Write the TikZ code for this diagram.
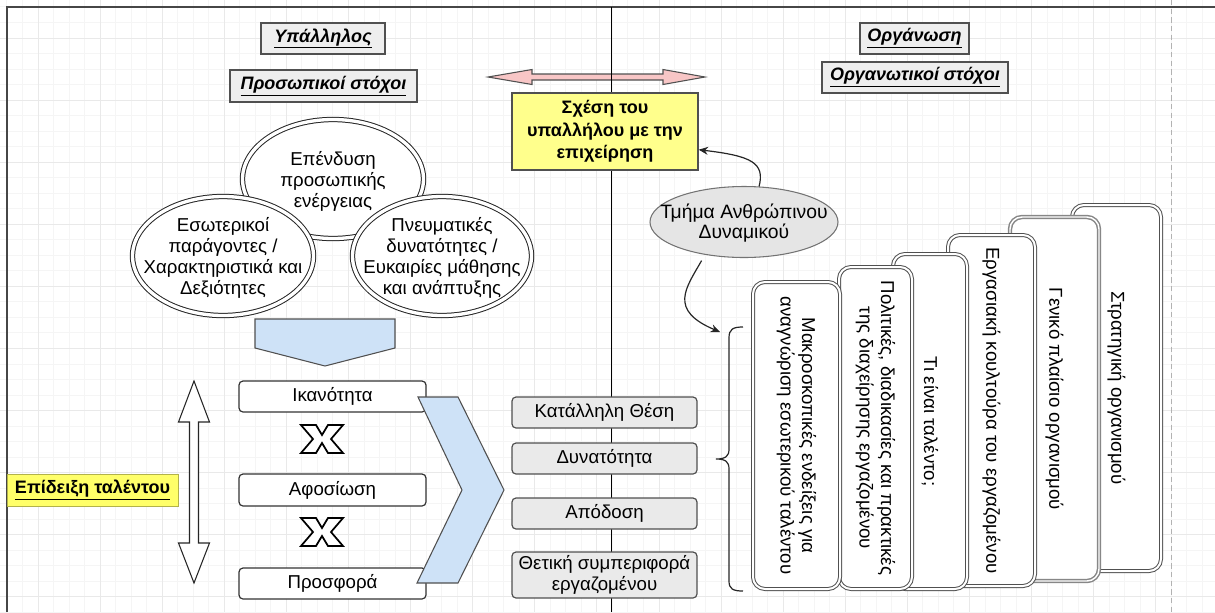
\documentclass[tikz,border=0pt]{standalone}
\usepackage{fontspec}
\setmainfont{Liberation Sans}
\usetikzlibrary{shapes.geometric,arrows.meta}

\definecolor{gridminor}{RGB}{245,245,245}
\definecolor{gridmajor}{RGB}{233,233,233}
\definecolor{framegray}{RGB}{70,70,70}
\definecolor{edge}{RGB}{80,80,80}
\definecolor{titlefill}{RGB}{238,238,238}
\definecolor{noteyellow}{RGB}{255,255,140}
\definecolor{labelyellow}{RGB}{255,255,105}
\definecolor{pinkfill}{RGB}{248,198,198}
\definecolor{bluefill}{RGB}{206,226,247}
\definecolor{boxgray}{RGB}{234,234,234}
\definecolor{hrgray}{RGB}{229,229,229}
\definecolor{thickgray}{RGB}{135,135,135}

\newcommand{\bodyfont}{\fontsize{14}{16}\selectfont}

\tikzset{
  titlebox/.style={draw=edge, fill=titlefill, line width=1pt, inner sep=0pt,
    font=\fontsize{13.5}{16}\selectfont\bfseries\itshape},
  notebox/.style={draw=edge, fill=noteyellow, line width=1pt, inner sep=0pt,
    align=center, font=\fontsize{13.5}{17}\selectfont\bfseries},
  ringellipse/.style={ellipse, draw=black!85, fill=white, line width=0.75pt,
    double=white, double distance=2.5pt, inner sep=0pt},
  ringtext/.style={align=center, font=\fontsize{14}{15.8}\selectfont},
  whitebox/.style={draw=black!80, fill=white, rounded corners=3pt, line width=0.9pt,
    inner sep=0pt, minimum width=140.25pt, font=\bodyfont},
  graybox/.style={draw=edge, fill=boxgray, rounded corners=3pt, line width=0.9pt,
    inner sep=0pt, minimum width=138.75pt, align=center, font=\bodyfont},
  stackbox/.style={draw=edge, fill=white, rounded corners=9pt, line width=0.75pt,
    double=white, double distance=1.5pt, inner sep=0pt, rotate=-90,
    align=center, font=\fontsize{14}{16.2}\selectfont},
  shapeedge/.style={draw=edge, line width=0.8pt, line join=miter},
  conn/.style={draw=black!85, line width=0.9pt, -{Stealth[length=7pt,width=6pt]}},
  crossmark/.pic={
    \draw[fill=white, line width=1.3pt, line join=miter]
      (-21,-14) -- (-6,-14) -- (0,-4) -- (6,-14) -- (21,-14) -- (9,0)
      -- (21,14) -- (6,14) -- (0,4) -- (-6,14) -- (-21,14) -- (-9,0) -- cycle;
  }
}

\begin{document}
\begin{tikzpicture}[x=0.75pt, y=-0.75pt]
\useasboundingbox (0,0) rectangle (1215,612);

% background grid
\foreach \k [evaluate=\k as \g using 38+15.525*\k] in {-2,...,75}
  \draw[gridminor, line width=0.75pt] (\g,0) -- (\g,612);
\foreach \k [evaluate=\k as \g using 38+15.525*\k] in {-2,...,37}
  \draw[gridminor, line width=0.75pt] (0,\g) -- (1215,\g);
\foreach \k [evaluate=\k as \g using 38+62.1*\k] in {0,...,18}
  \draw[gridmajor, line width=0.75pt] (\g,0) -- (\g,612);
\foreach \k [evaluate=\k as \g using 38+62.1*\k] in {0,...,9}
  \draw[gridmajor, line width=0.75pt] (0,\g) -- (1215,\g);

% page edge and frame
\draw[black!30, line width=0.75pt, dash pattern=on 4pt off 2.5pt] (1171,0) -- (1171,612);
\draw[framegray, line width=1.6pt] (7,612) -- (7,7) -- (1215,7);

% two-way relation arrow and the dividing line
\draw[shapeedge, fill=pinkfill]
  (488,77) -- (532,69.5) -- (532,74) -- (663,74) -- (663,69.5) -- (705,77)
  -- (663,84.5) -- (663,80) -- (532,80) -- (532,84.5) -- cycle;
\draw[black, line width=0.8pt] (611.5,7) -- (611.5,612);

% headings
\node[titlebox, minimum width=93pt, minimum height=23.25pt] (emp) at (323,38.5) {\underline{Υπάλληλος}};
\node[titlebox, minimum width=140.25pt, minimum height=24pt] (pgoals) at (323.5,86) {\underline{Προσωπικοί στόχοι}};
\node[titlebox, minimum width=81.75pt, minimum height=23.25pt] (org) at (914.5,38.5) {\underline{Οργάνωση}};
\node[titlebox, minimum width=139.5pt, minimum height=23.25pt] (ogoals) at (915,77.5) {\underline{Οργανωτικοί στόχοι}};

\node[notebox, minimum width=139.5pt, minimum height=57.75pt] (rel) at (605,131.5)
  {Σχέση του\\υπαλλήλου με την\\επιχείρηση};

% personal factors
\node[ringellipse, minimum width=135.75pt, minimum height=89.25pt] (invest) at (333,179) {};
\node[ringtext] (investT) at (333,181) {Επένδυση\\προσωπικής\\ενέργειας};
\node[ringellipse, minimum width=135.75pt, minimum height=89.25pt] (inner) at (223,256) {};
\node[ringtext] (innerT) at (223,258) {Εσωτερικοί\\παράγοντες /\\Χαρακτηριστικά και\\Δεξιότητες};
\node[ringellipse, minimum width=134.25pt, minimum height=89.25pt] (mental) at (442,256) {};
\node[ringtext] (mentalT) at (442,258) {Πνευματικές\\δυνατότητες /\\Ευκαιρίες μάθησης\\και ανάπτυξης};

% downward block arrow
\draw[shapeedge, fill=bluefill] (255,319) -- (395,319) -- (395,348) -- (325,366) -- (255,348) -- cycle;

% vertical two-way arrow
\draw[black!85, line width=0.8pt, fill=white, line join=miter]
  (194,381) -- (209.5,422) -- (198.5,422) -- (198.5,543) -- (209.5,543) -- (194,583)
  -- (178.5,543) -- (189.5,543) -- (189.5,422) -- (178.5,422) -- cycle;

% talent components
\node[whitebox, minimum height=23.25pt] (abil) at (332.5,396.5) {Ικανότητα};
\node[whitebox, minimum height=24pt] (ded) at (332.5,490) {Αφοσίωση};
\node[whitebox, minimum height=23.25pt] (contr) at (332.5,583.5) {Προσφορά};
\pic at (322,439) {crossmark};
\pic at (322,532) {crossmark};

% chevron
\draw[shapeedge, fill=bluefill] (418,397) -- (458,397) -- (504,490) -- (458,583) -- (417,583) -- (462,490) -- cycle;

\node[draw=labelyellow!70!black, fill=labelyellow, line width=0.6pt, inner sep=0pt,
  minimum width=128.25pt, minimum height=24pt, font=\fontsize{13.5}{16}\selectfont\bfseries] (talent) at (92.5,490)
  {\underline{Επίδειξη ταλέντου}};

% outcomes
\node[graybox, minimum height=23.25pt] (pos) at (604.5,412.5) {Κατάλληλη Θέση};
\node[graybox, minimum height=23.25pt] (pot) at (604.5,458.5) {Δυνατότητα};
\node[graybox, minimum height=23.25pt] (perf) at (604.5,513.5) {Απόδοση};
\node[graybox, minimum height=34.5pt, font=\fontsize{14}{15.5}\selectfont] (beh) at (604.5,575)
  {Θετική συμπεριφορά\\εργαζομένου};

% HR department
\node[ellipse, draw=black!55, fill=hrgray, line width=0.8pt, inner sep=0pt,
  minimum width=141pt, minimum height=53.25pt] (hr) at (744,222) {};
\node[align=center, font=\fontsize{14.5}{15.5}\selectfont] (hrT) at (744,223) {Τμήμα Ανθρώπινου\\Δυναμικού};

\coordinate (braceTip) at (720,332);
\draw[conn] (hr.67) .. controls (765,163) and (752,156) .. (rel.-11);
\draw[conn, shorten <=5pt] (hr.-140) .. controls (686,288) and (668,310) .. (braceTip);

% brace
\draw[black!85, line width=0.9pt]
  (743,327) .. controls (733,327) and (729,329) .. (729,338) -- (729,449)
  .. controls (729,456) and (726,459) .. (716,459)
  .. controls (726,459) and (729,462) .. (729,469) -- (729,581)
  .. controls (729,589) and (733,591) .. (743,591);

% organisational layers, back to front
\node[stackbox, minimum width=274.5pt, minimum height=66.75pt] (s6) at (1116.5,388) {Στρατηγική οργανισμού};
\node[stackbox, draw=thickgray, line width=1.1pt, double distance=1.1pt,
  minimum width=273pt, minimum height=66.75pt] (s5) at (1054.5,399) {Γενικό πλαίσιο οργανισμού};
\node[stackbox, minimum width=263.25pt, minimum height=65.25pt] (s4) at (991.5,410.5) {Εργασιακή κουλτούρα του εργαζομένου};
\node[stackbox, minimum width=251.25pt, minimum height=55.5pt] (s3) at (930,421.5) {Τι είναι ταλέντο;};
\node[stackbox, minimum width=241.5pt, minimum height=54.75pt] (s2) at (875.5,428)
  {Πολιτικές, διαδικασίες και πρακτικές\\της διαχείρησης εργαζομένου};
\node[stackbox, minimum width=230.25pt, minimum height=65.25pt] (s1) at (796.5,435.5)
  {Μακροσκοπικές ενδείξεις για\\αναγνώριση εσωτερικού ταλέντου};
\end{tikzpicture}
\end{document}
